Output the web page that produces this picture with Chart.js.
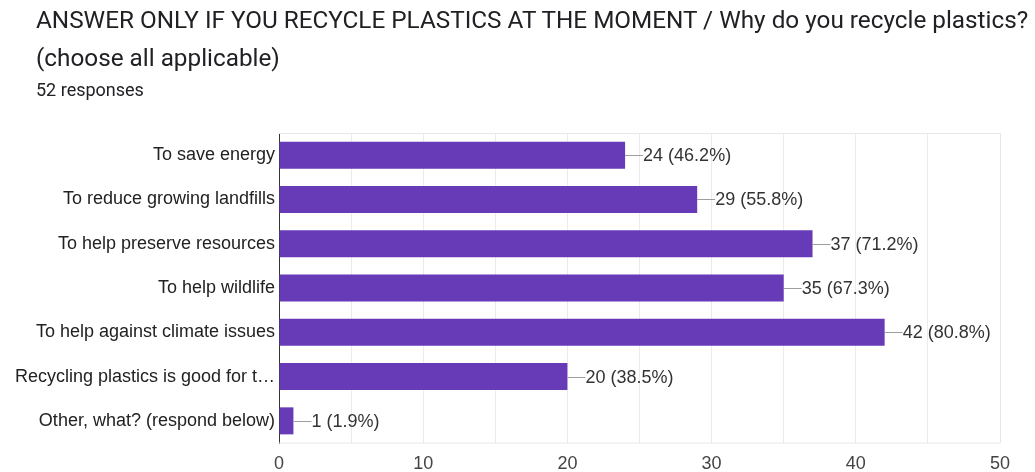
<!DOCTYPE html>
<html lang="en">
<head>
    <meta charset="utf-8">
    <script src="https://cdn.jsdelivr.net/npm/chart.js@4/dist/chart.umd.min.js"></script>
    <style>
        body { margin: 0; background: #fff; }
        .wrap { position: relative; width: 1035px; height: 472px; }
        .title { position: absolute; left: 36px; top: 1px; font-family: Roboto, sans-serif; font-size: 24.3px; line-height: 38px; color: #202124; white-space: nowrap; }
        .sub { position: absolute; left: 36px; top: 79px; font-family: Roboto, sans-serif; font-size: 18px; color: #202124; }
        .chart-container { position: absolute; left: 0; top: 0; width: 1035px; height: 472px; }
    </style>
</head>
<body>
<div class="wrap">
    <div class="chart-container"><canvas id="myChart"></canvas></div>
    <div class="title">ANSWER ONLY IF YOU RECYCLE PLASTICS AT THE MOMENT / Why do you recycle plastics?<br>(choose all applicable)</div>
    <div class="sub">52 responses</div>
</div>

<script>
    var categories = [
        "To save energy",
        "To reduce growing landfills",
        "To help preserve resources",
        "To help wildlife",
        "To help against climate issues",
        "Recycling plastics is good for t\u2026",
        "Other, what? (respond below)"
    ];
    var counts = [24, 29, 37, 35, 42, 20, 1];
    var percents = ["46.2%", "55.8%", "71.2%", "67.3%", "80.8%", "38.5%", "1.9%"];
    var xTicks = [0, 10, 20, 30, 40, 50];

    var labelFont = '"Liberation Sans", Arial, sans-serif';

    // draws the "—24 (46.2%)" labels and the plot frame
    var valueLabels = {
        id: 'valueLabels',
        beforeDatasetsDraw: function (chart) {
            var a = chart.chartArea, ctx = chart.ctx;
            ctx.save();
            ctx.strokeStyle = '#e6e6e6';
            ctx.lineWidth = 1;
            ctx.beginPath();
            ctx.moveTo(a.left, a.top + 0.5);
            ctx.lineTo(a.right + 0.5, a.top + 0.5);
            ctx.lineTo(a.right + 0.5, a.bottom);
            ctx.lineTo(a.left, a.bottom);
            ctx.stroke();
            ctx.restore();
        },
        afterDatasetsDraw: function (chart) {
            var ctx = chart.ctx;
            var meta = chart.getDatasetMeta(0);
            ctx.save();
            ctx.font = '18px ' + labelFont;
            ctx.textBaseline = 'middle';
            ctx.textAlign = 'left';
            meta.data.forEach(function (bar, i) {
                var y = Math.round(bar.y) + 0.5;
                ctx.strokeStyle = '#9e9e9e';
                ctx.lineWidth = 1;
                ctx.beginPath();
                ctx.moveTo(bar.x, y);
                ctx.lineTo(bar.x + 18, y);
                ctx.stroke();
                ctx.fillStyle = '#333';
                ctx.fillText(counts[i] + ' (' + percents[i] + ')', bar.x + 18, bar.y + 1);
            });
            ctx.restore();
        }
    };

    var ctx = document.getElementById("myChart").getContext("2d");
    var myChart = new Chart(ctx, {
        type: 'bar',
        data: {
            labels: categories,
            datasets: [{
                data: counts,
                backgroundColor: '#673ab7',
                borderWidth: 0,
                barPercentage: 0.61,
                categoryPercentage: 1.0
            }]
        },
        options: {
            indexAxis: 'y',
            responsive: true,
            maintainAspectRatio: false,
            animation: false,
            layout: { padding: { top: 133, left: 0, right: 35, bottom: 0 } },
            plugins: {
                legend: { display: false },
                tooltip: { enabled: false }
            },
            scales: {
                x: {
                    min: 0,
                    max: 50,
                    ticks: {
                        stepSize: 5,
                        autoSkip: false,
                        maxRotation: 0,
                        color: '#444',
                        font: { family: labelFont, size: 18 },
                        padding: 10,
                        callback: function (v) { return xTicks.indexOf(v) >= 0 ? v : ''; }
                    },
                    grid: { color: '#ebebeb', drawTicks: false },
                    border: { display: false },
                    afterFit: function (s) { s.height = 29; }
                },
                y: {
                    ticks: {
                        color: '#222',
                        font: { family: labelFont, size: 18 },
                        padding: 4
                    },
                    grid: { display: false, drawTicks: false },
                    border: { display: true, color: '#333', width: 1 },
                    afterFit: function (s) { s.width = 279; }
                }
            }
        },
        plugins: [valueLabels]
    });
</script>
</body>
</html>
